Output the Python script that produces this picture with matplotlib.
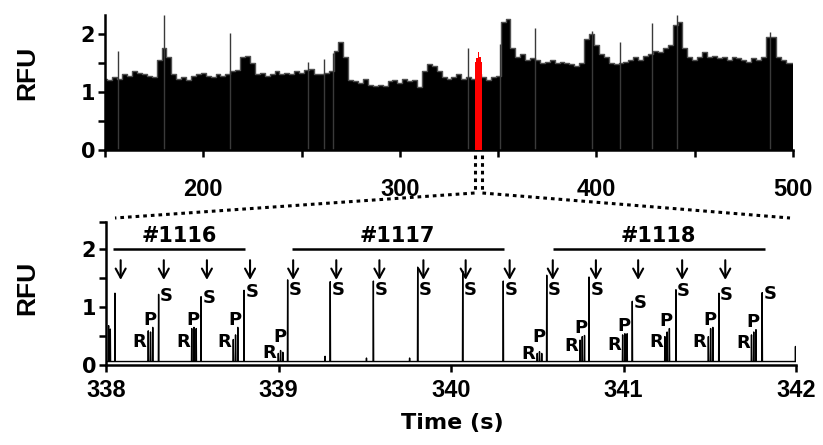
import matplotlib
matplotlib.use("Agg")
import matplotlib.pyplot as plt
import numpy as np
from matplotlib.lines import Line2D

plt.rcParams['font.family'] = ['DejaVu Sans']
plt.rcParams['font.weight'] = 'bold'

# ---------------- Top panel data (envelope every 2.5 s, 150..500) ----------------
top_t0 = 150.0
top_dt = 2.5
top_v = [
    1.22, 1.20, 1.25, 1.22, 1.30, 1.28, 1.35, 1.33, 1.30, 1.27,
    1.25, 1.55, 1.75, 1.60, 1.30, 1.22, 1.25, 1.20, 1.27, 1.30,
    1.33, 1.28, 1.25, 1.30, 1.27, 1.30, 1.35, 1.38, 1.60, 1.62,
    1.50, 1.30, 1.32, 1.28, 1.30, 1.35, 1.30, 1.33, 1.30, 1.35,
    1.32, 1.38, 1.40, 1.30, 1.30, 1.32, 1.35, 1.70, 1.85, 1.60,
    1.20, 1.18, 1.15, 1.22, 1.12, 1.10, 1.12, 1.10, 1.18, 1.20,
    1.15, 1.22, 1.18, 1.20, 1.08, 1.35, 1.48, 1.45, 1.35, 1.25,
    1.22, 1.25, 1.30, 1.22, 1.25, 1.22, 1.30, 1.25, 1.20, 1.25,
    1.28, 2.20, 2.25, 1.75, 1.60, 1.65, 1.55, 1.58, 1.55, 1.50,
    1.52, 1.55, 1.50, 1.52, 1.50, 1.48, 1.45, 1.50, 1.90, 2.00,
    1.80, 1.65, 1.60, 1.50, 1.48, 1.50, 1.52, 1.55, 1.60, 1.55,
    1.62, 1.65, 1.70, 1.68, 1.75, 1.80, 2.15, 2.20, 1.75, 1.60,
    1.55, 1.60, 1.68, 1.60, 1.62, 1.58, 1.60, 1.55, 1.60, 1.58,
    1.55, 1.52, 1.58, 1.55, 1.60, 1.95, 1.95, 1.60, 1.55, 1.50,
    1.50,
]
top_t = top_t0 + top_dt * np.arange(len(top_v))

spike_t = [156.6, 180.2, 213.6, 253.5, 261.6, 266.2, 334.8, 351.0, 368.5,
           398.0, 412.0, 428.3, 441.0, 488.5]
spike_h = [1.70, 2.32, 2.01, 1.52, 1.57, 1.66, 1.76, 1.83, 2.09,
           2.05, 1.86, 2.18, 2.32, 2.03]

red_t = [338.0, 339.0, 340.0, 341.0, 342.0]
red_v = [1.52, 1.58, 1.69, 1.60, 1.52]

# ---------------- Bottom panel data ----------------
baseline = 0.06
s_t = [338.305, 338.551, 338.800, 339.053, 339.300, 339.550, 339.807, 340.068,
       340.303, 340.555, 340.800, 341.051, 341.304, 341.553, 341.804]
s_h = [1.22, 1.18, 1.29, 1.47, 1.44, 1.45, 1.69, 1.62,
       1.45, 1.55, 1.52, 1.10, 1.30, 1.24, 1.25]

rp_start = [338.245, 338.497, 338.738, 338.999, 340.500, 340.748, 340.995,
            341.240, 341.492, 341.742]
rp_h1 = [0.59, 0.63, 0.44, 0.20, 0.20, 0.43, 0.52, 0.49, 0.49, 0.52]
rp_h2 = [0.57, 0.65, 0.52, 0.25, 0.23, 0.49, 0.54, 0.57, 0.63, 0.57]
rp_h3 = [0.65, 0.63, 0.65, 0.22, 0.20, 0.51, 0.54, 0.63, 0.65, 0.61]
rp_gap = 0.013

other_t = [338.015, 338.025, 338.052, 339.270, 339.510, 339.760, 341.997]
other_h = [0.68, 0.62, 1.24, 0.15, 0.12, 0.12, 0.32]

arrow_t = [338.085, 338.335, 338.585, 338.835, 339.085, 339.335, 339.585, 339.840,
           340.085, 340.340, 340.590, 340.840, 341.085, 341.340, 341.590]

group_names = ['#1116', '#1117', '#1118']
group_start = [338.042, 339.076, 340.589]
group_end = [338.806, 340.307, 341.820]

# ---------------- Figure ----------------
W, H = 823, 445
fig = plt.figure(figsize=(W / 100, H / 100), dpi=100)
ax1 = fig.add_axes([105 / W, 1 - 150 / H, (793 - 105) / W, (150 - 15) / H])
ax2 = fig.add_axes([106 / W, 1 - 365 / H, (796 - 106) / W, (365 - 222) / H])

LW = 1.8
for ax in (ax1, ax2):
    ax.spines['top'].set_visible(False)
    ax.spines['right'].set_visible(False)
    ax.spines['left'].set_linewidth(LW)
    ax.spines['bottom'].set_linewidth(LW)
    ax.tick_params(axis='both', direction='out', width=LW, length=5, color='black')
    ax.tick_params(axis='y', labelsize=15, pad=2)
    ax.tick_params(axis='x', labelsize=17, labelfontfamily='Liberation Sans')

# Top panel
ax1.fill_between(top_t, 0, top_v, step='mid', color='black', lw=0)
ax1.step(top_t, top_v, where='mid', color='#505050', lw=1.0)
ax1.vlines(spike_t, 0, spike_h, color='#3a3a3a', lw=1.0)
ax1.fill_between(red_t, 0, red_v, step='mid', color='#ff0000', lw=0, zorder=3)
ax1.set_xlim(150, 500)
ax1.set_ylim(0, 2.32)
xt = np.arange(150, 501, 50)
ax1.set_xticks(xt)
ax1.set_xticklabels([str(int(v)) if v % 100 == 0 else '' for v in xt])
ax1.tick_params(axis='x', pad=15)
ax1.set_yticks([0, 0.5, 1, 1.5, 2])
ax1.set_yticklabels(['0', '', '1', '', '2'])

# Bottom panel trace
peaks = []
for t, h in zip(s_t, s_h):
    peaks.append((t, h))
for st, a, b, c in zip(rp_start, rp_h1, rp_h2, rp_h3):
    peaks += [(st, a), (st + rp_gap, b), (st + 2 * rp_gap, c)]
for t, h in zip(other_t, other_h):
    peaks.append((t, h))
peaks.sort()
w = 0.0015
tr_t = [338.0]
tr_v = [baseline]
for t, h in peaks:
    tr_t += [t - w, t, t + w]
    tr_v += [baseline, h, baseline]
tr_t.append(342.0)
tr_v.append(baseline)
ax2.plot(tr_t, tr_v, color='black', lw=1.0)

ax2.set_xlim(338, 342)
ax2.set_ylim(0, 2.47)
ax2.set_xticks([338, 339, 340, 341, 342])
ax2.set_xticklabels(['338', '339', '340', '341', '342'])
ax2.tick_params(axis='x', pad=5)
ax2.set_yticks([0, 0.5, 1, 1.5, 2, 2.47])
ax2.set_yticklabels(['0', '', '1', '', '2', ''])

# S labels
for t, h in zip(s_t, s_h):
    ax2.text(t + 0.045, min(h - 0.03, 1.29), 'S', ha='center', va='center',
             fontsize=13, fontweight='bold')
# R / P labels
for st, a, b, c in zip(rp_start, rp_h1, rp_h2, rp_h3):
    m = max(a, b, c)
    ax2.text(st - 0.05, max(0.5 * m + 0.08, 0.18), 'R', ha='center', va='center',
             fontsize=13, fontweight='bold')
    ax2.text(st + 0.008, max(m + 0.13, 0.48), 'P', ha='center', va='center',
             fontsize=13, fontweight='bold')
# arrows
for t in arrow_t:
    ax2.annotate('', xy=(t, 1.47), xytext=(t, 1.81),
                 arrowprops=dict(arrowstyle='->,head_length=0.55,head_width=0.3',
                                 lw=1.5, color='black', shrinkA=0, shrinkB=0,
                                 mutation_scale=12))
# group bars
for name, s, e in zip(group_names, group_start, group_end):
    ax2.plot([s, e], [2.0, 2.0], color='black', lw=1.8, solid_capstyle='butt')
    ax2.text((s + e) / 2, 2.06, name, ha='center', va='bottom', fontsize=15,
             fontweight='bold')

# axis labels
fig.text(27 / W, 1 - 73 / H, 'RFU', rotation=90, ha='center', va='center',
         fontsize=19, fontweight='bold', family='Liberation Sans')
fig.text(27 / W, 1 - 288 / H, 'RFU', rotation=90, ha='center', va='center',
         fontsize=19, fontweight='bold', family='Liberation Sans')
fig.text(452 / W, 1 - 423 / H, 'Time (s)', ha='center', va='center',
         fontsize=16, fontweight='bold')

# zoom connector dotted lines
fig.canvas.draw()
inv = fig.transFigure.inverted()
xl = inv.transform(ax1.transData.transform((red_t[0], 0)))[0]
xr = inv.transform(ax1.transData.transform((red_t[-1], 0)))[0]
y_top = 1 - 155 / H
y_mid = 1 - 193 / H
y_bot = 1 - 218 / H
dot = dict(color='black', lw=2.2, linestyle=(0, (1.2, 1.3)), transform=fig.transFigure)
fig.add_artist(Line2D([xl, xl], [y_top, y_mid], **dot))
fig.add_artist(Line2D([xr, xr], [y_top, y_mid], **dot))
fig.add_artist(Line2D([xl, 115 / W], [y_mid, y_bot], **dot))
fig.add_artist(Line2D([xr, 790 / W], [y_mid, y_bot], **dot))

fig.savefig('out.png', dpi=100)
